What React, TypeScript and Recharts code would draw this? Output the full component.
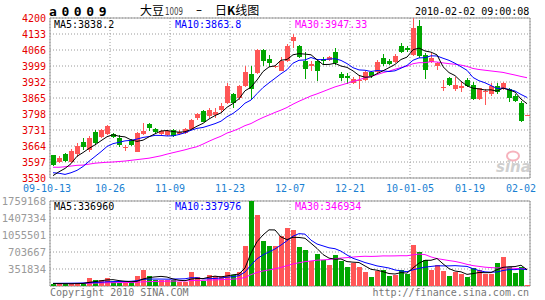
import React from 'react';
import { ComposedChart, Bar, Line, XAxis, YAxis, CartesianGrid, ReferenceArea } from 'recharts';

const days = [
  '10-13','10-14','10-15','10-16','10-19','10-20','10-21','10-22','10-23','10-26',
  '10-27','10-28','10-29','10-30','11-02','11-03','11-04','11-05','11-06','11-09',
  '11-10','11-11','11-12','11-13','11-16','11-17','11-18','11-19','11-20','11-23',
  '11-24','11-25','11-26','11-27','11-30','12-01','12-02','12-03','12-04','12-07',
  '12-08','12-09','12-10','12-11','12-14','12-15','12-16','12-17','12-18','12-21',
  '12-22','12-23','12-24','12-25','12-28','12-29','12-30','12-31','01-04','01-05',
  '01-06','01-07','01-08','01-11','01-12','01-13','01-14','01-15','01-18','01-19',
  '01-20','01-21','01-22','01-25','01-26','01-27','01-28','01-29','02-01','02-02',
];
const tickLabels = ['09-10-13', '10-26', '11-09', '11-23', '12-07', '12-21', '10-01-05', '01-19', '02-02'];

const opens = [
  3626, 3598, 3629, 3598, 3629, 3682, 3647, 3724, 3703, 3713,
  3713, 3699, 3654, 3689, 3640, 3713, 3755, 3734, 3713, 3710,
  3731, 3713, 3717, 3735, 3780, 3811, 3788, 3795, 3816, 3844,
  3882, 3865, 3914, 3966, 3970, 4065, 4028, 3993, 3979, 4019,
  4102, 4081, 4019, 3998, 4019, 4030, 4026, 4056, 3966, 3959,
  3928, 3935, 3942, 3974, 3972, 4034, 4021, 4017, 4083, 4073,
  4045, 4166, 4045, 4014, 4000, 3905, 3950, 3903, 3908, 3940,
  3919, 3861, 3889, 3880, 3917, 3903, 3903, 3875, 3843, 3790,
];
const highs = [
  3628, 3622, 3633, 3650, 3675, 3696, 3706, 3731, 3735, 3750,
  3717, 3710, 3668, 3693, 3724, 3762, 3759, 3739, 3731, 3731,
  3735, 3731, 3738, 3777, 3803, 3815, 3822, 3823, 3844, 3928,
  3886, 3921, 3998, 3998, 4072, 4072, 4044, 4000, 4035, 4091,
  4133, 4088, 4058, 4021, 4030, 4035, 4042, 4074, 3974, 3970,
  3952, 3963, 3979, 3979, 4024, 4048, 4028, 4048, 4094, 4084,
  4199, 4192, 4052, 4052, 4017, 3940, 3952, 3954, 3933, 3947,
  3931, 3908, 3903, 3926, 3926, 3933, 3908, 3880, 3852, 3793,
];
const lows = [
  3582, 3592, 3597, 3592, 3619, 3647, 3640, 3668, 3698, 3710,
  3696, 3661, 3644, 3664, 3640, 3710, 3728, 3717, 3710, 3706,
  3703, 3708, 3713, 3731, 3773, 3763, 3780, 3781, 3802, 3840,
  3823, 3858, 3910, 3862, 3966, 3998, 3993, 3990, 3977, 4016,
  4074, 4033, 3946, 3977, 3938, 4005, 4019, 4005, 3935, 3925,
  3924, 3904, 3938, 3949, 3968, 4000, 4003, 4013, 4052, 4059,
  4042, 4031, 3945, 4010, 3982, 3894, 3917, 3894, 3891, 3912,
  3857, 3857, 3836, 3875, 3880, 3898, 3847, 3847, 3763, 3789,
];
const closes = [
  3584, 3612, 3601, 3644, 3664, 3661, 3699, 3675, 3731, 3748,
  3703, 3668, 3661, 3668, 3717, 3728, 3738, 3724, 3727, 3727,
  3707, 3724, 3734, 3773, 3797, 3766, 3815, 3806, 3830, 3914,
  3844, 3914, 3974, 3904, 4065, 4021, 4012, 3997, 4021, 4081,
  4119, 4035, 3988, 4007, 3977, 4019, 4037, 4012, 3949, 3949,
  3946, 3942, 3974, 3956, 4017, 4006, 4007, 4042, 4059, 4067,
  4160, 4042, 3982, 4034, 4010, 3912, 3919, 3919, 3914, 3917,
  3861, 3905, 3896, 3917, 3889, 3926, 3866, 3852, 3769, 3792,
];
const volumes = [
  47000, 47000, 47000, 40000, 68000, 61000, 157000, 130000, 123000, 157000,
  88000, 61000, 61000, 75000, 199000, 323000, 213000, 130000, 130000, 130000,
  123000, 80000, 88000, 295000, 192000, 109000, 226000, 199000, 213000, 295000,
  226000, 295000, 837000, 1759168, 1465000, 927000, 824000, 824000, 1030000, 1196000,
  1168000, 803000, 741000, 513000, 665000, 534000, 430000, 637000, 527000, 396000,
  476000, 393000, 282000, 180000, 303000, 324000, 200000, 234000, 324000, 255000,
  855000, 696000, 531000, 324000, 441000, 303000, 200000, 282000, 241000, 180000,
  375000, 325000, 255000, 255000, 485000, 610000, 390000, 270000, 395000, 20000,
];

// moving-average values before a full window exists
const ma5Lead = [3540, 3556, 3570, 3590];
const ma10Lead = [3552, 3550, 3545, 3552, 3562, 3578, 3600, 3620, 3640];
const ma30Lead = [
  3575, 3575, 3577, 3580, 3583, 3584, 3588, 3592, 3594, 3596,
  3597, 3599, 3601, 3604, 3607, 3610, 3613, 3618, 3623, 3630,
  3636, 3642, 3648, 3655, 3661, 3672, 3684, 3695, 3705,
];
const vma5Lead = [52000, 50000, 48000, 47000];
const vma10Lead = [55000, 56000, 57000, 58000, 60000, 63000, 67000, 72000, 78000];
const vma30Lead = [
  48000, 49000, 50000, 50000, 52000, 53000, 57000, 60000, 63000, 67000,
  69000, 70000, 71000, 73000, 78000, 86000, 91000, 94000, 97000, 100000,
  102000, 103000, 105000, 112000, 116000, 118000, 123000, 127000, 131000,
];

const priceTicks = [3530, 3597, 3664, 3731, 3798, 3865, 3932, 3999, 4066, 4133, 4200];
const volTicks = [351834, 703667, 1055501, 1407334, 1759168];

const priceLabels = { ma5: 'MA5:3838.2', ma10: 'MA10:3863.8', ma30: 'MA30:3947.33' };
const volLabels = { ma5: 'MA5:336960', ma10: 'MA10:337976', ma30: 'MA30:346934' };

const RED = '#ff5656';
const GREEN = '#00a600';
const MONO = '"DejaVu Sans Mono", monospace';

function movingAverage(values: number[], n: number, lead: number[]) {
  return values.map((_, i) => {
    if (i < n - 1) return lead[i];
    let s = 0;
    for (let k = i - n + 1; k <= i; k++) s += values[k];
    return s / n;
  });
}

const ma5 = movingAverage(closes, 5, ma5Lead);
const ma10 = movingAverage(closes, 10, ma10Lead);
const ma30 = movingAverage(closes, 30, ma30Lead);
const vma5 = movingAverage(volumes, 5, vma5Lead);
const vma10 = movingAverage(volumes, 10, vma10Lead);
const vma30 = movingAverage(volumes, 30, vma30Lead);

const rows = days.map((d, i) => ({
  day: d,
  pos: i + 0.5,
  open: opens[i],
  high: highs[i],
  low: lows[i],
  close: closes[i],
  range: [lows[i], highs[i]],
  vol: volumes[i],
  ma5: ma5[i],
  ma10: ma10[i],
  ma30: ma30[i],
  vma5: vma5[i],
  vma10: vma10[i],
  vma30: vma30[i],
}));

const xMax = days.length;
const xTicks = tickLabels.map((_, k) => (k * xMax) / (tickLabels.length - 1));

function Candle(props: any) {
  const { x, y, width, height, payload } = props;
  if (x == null || y == null || !payload) return null;
  const { open, close, high, low } = payload;
  const top = Math.min(y, y + height);
  const h = Math.abs(height);
  const span = high - low || 1;
  const py = (v: number) => top + ((high - v) / span) * h;
  const color = close >= open ? RED : GREEN;
  const left = Math.floor(x);
  const w = Math.max(1, Math.round(width));
  const mid = left + Math.floor(w / 2);
  const bTop = Math.round(py(Math.max(open, close)));
  const bBot = Math.round(py(Math.min(open, close)));
  const wTop = Math.round(top);
  const wBot = Math.round(top + h);
  return (
    <g>
      <rect x={mid} y={wTop} width={1} height={Math.max(1, wBot - wTop)} fill={color} />
      <rect x={left} y={bTop} width={w} height={Math.max(1, bBot - bTop)} fill={color} />
    </g>
  );
}

function VolBar(props: any) {
  const { x, y, width, height, payload } = props;
  if (x == null || y == null || !payload) return null;
  const t = Math.round(Math.min(y, y + height));
  const b = Math.round(Math.max(y, y + height));
  return (
    <rect
      x={Math.floor(x)}
      y={t}
      width={Math.max(1, Math.round(width))}
      height={Math.max(1, b - t)}
      fill={payload.close >= payload.open ? RED : GREEN}
    />
  );
}

function DateTick(props: any) {
  const { x, y, payload } = props;
  const k = Math.round(payload.value / (xMax / (tickLabels.length - 1)));
  const label = tickLabels[k];
  let anchor: 'middle' | 'end' = 'middle';
  let tx = x;
  if (k === 0) tx = x - 3;
  if (k === tickLabels.length - 1) {
    anchor = 'end';
    tx = x + 6;
  }
  return (
    <text x={tx} y={y + 14} textAnchor={anchor} fill="#1a7fd2" fontSize={10} fontFamily={MONO}>
      {label}
    </text>
  );
}

export default function App() {
  return (
    <div style={{ position: 'absolute', left: 0, top: 0, width: 545, height: 300, background: '#fff', overflow: 'hidden' }}>
      <div style={{ position: 'absolute', left: 0, top: 0 }}>
        <ComposedChart width={545} height={200} data={rows} margin={{ top: 18, right: 15, bottom: 0, left: 0 }}>
          <CartesianGrid stroke="#9a9a9a" strokeDasharray="1 2" />
          <XAxis
            type="number"
            dataKey="pos"
            domain={[0, xMax]}
            ticks={xTicks}
            interval={0}
            allowDataOverflow
            height={22}
            tickLine={false}
            axisLine={false}
            tickSize={0}
            tickMargin={0}
            tick={<DateTick />}
          />
          <YAxis
            type="number"
            domain={[priceTicks[0], priceTicks[priceTicks.length - 1]]}
            ticks={priceTicks}
            interval={0}
            allowDataOverflow
            width={50}
            tickLine={false}
            axisLine={false}
            tickSize={0}
            tickMargin={4}
            tick={{ fill: '#e60000', fontSize: 10, fontFamily: MONO }}
          />
          <ReferenceArea
            x1={0}
            x2={xMax}
            y1={priceTicks[0]}
            y2={priceTicks[priceTicks.length - 1]}
            fill="none"
            stroke="#999"
            strokeWidth={1}
            ifOverflow="visible"
          />
          <Bar dataKey="range" barSize={5} shape={<Candle />} isAnimationActive={false} />
          <Line type="linear" dataKey="ma30" stroke="#ff00ff" strokeWidth={1} dot={false} activeDot={false} isAnimationActive={false} />
          <Line type="linear" dataKey="ma10" stroke="#0000ff" strokeWidth={1} dot={false} activeDot={false} isAnimationActive={false} />
          <Line type="linear" dataKey="ma5" stroke="#000000" strokeWidth={1} dot={false} activeDot={false} isAnimationActive={false} />
        </ComposedChart>
      </div>
      <div style={{ position: 'absolute', left: 0, top: 195 }}>
        <ComposedChart width={545} height={105} data={rows} margin={{ top: 6, right: 15, bottom: 14, left: 0 }}>
          <CartesianGrid stroke="#9a9a9a" strokeDasharray="1 2" />
          <XAxis type="number" dataKey="pos" domain={[0, xMax]} ticks={xTicks} interval={0} allowDataOverflow hide />
          <YAxis
            type="number"
            domain={[0, volTicks[volTicks.length - 1]]}
            ticks={volTicks}
            interval={0}
            allowDataOverflow
            width={50}
            tickLine={false}
            axisLine={false}
            tickSize={0}
            tickMargin={4}
            tick={{ fill: '#9a9a9a', fontSize: 10.5, fontFamily: MONO }}
          />
          <ReferenceArea
            x1={0}
            x2={xMax}
            y1={0}
            y2={volTicks[volTicks.length - 1]}
            fill="none"
            stroke="#999"
            strokeWidth={1}
            ifOverflow="visible"
          />
          <Bar dataKey="vol" barSize={5} shape={<VolBar />} isAnimationActive={false} />
          <Line type="linear" dataKey="vma30" stroke="#ff00ff" strokeWidth={1} dot={false} activeDot={false} isAnimationActive={false} />
          <Line type="linear" dataKey="vma10" stroke="#0000ff" strokeWidth={1} dot={false} activeDot={false} isAnimationActive={false} />
          <Line type="linear" dataKey="vma5" stroke="#000000" strokeWidth={1} dot={false} activeDot={false} isAnimationActive={false} />
        </ComposedChart>
      </div>
      <svg width={545} height={300} style={{ position: 'absolute', left: 0, top: 0, pointerEvents: 'none' }}>
        <text x={49} y={16} fontSize={13} fontWeight="bold" fontFamily={MONO} letterSpacing={4.6} fill="#000">a0009</text>
        <text x={140} y={15} fontSize={12} fontFamily='"Noto Sans CJK SC", sans-serif' fill="#000">大豆</text>
        <text x={165} y={15} fontSize={11} fontFamily='"DejaVu Sans", sans-serif' fill="#444" textLength={18} lengthAdjust="spacingAndGlyphs">1009</text>
        <text x={196} y={14} fontSize={12} fontFamily='"DejaVu Sans", sans-serif' fill="#000">–</text>
        <text x={215} y={15} fontSize={12} fontFamily='"Noto Sans CJK SC", sans-serif' fill="#000">日<tspan fontWeight="bold">K</tspan>线图</text>
        <text x={415} y={15} fontSize={10} fontFamily={MONO} fill="#000">2010-02-02 09:00:08</text>

        <text x={54} y={28} fontSize={10} fontFamily={MONO} fill="#000">{priceLabels.ma5}</text>
        <text x={175} y={28} fontSize={10} fontFamily={MONO} fill="#0000ff">{priceLabels.ma10}</text>
        <text x={295} y={28} fontSize={10} fontFamily={MONO} fill="#ff00ff">{priceLabels.ma30}</text>

        <text x={54} y={210} fontSize={10} fontFamily={MONO} fill="#000">{volLabels.ma5}</text>
        <text x={175} y={210} fontSize={10} fontFamily={MONO} fill="#0000ff">{volLabels.ma10}</text>
        <text x={295} y={210} fontSize={10} fontFamily={MONO} fill="#ff00ff">{volLabels.ma30}</text>

        <ellipse cx={513} cy={156} rx={6} ry={4.5} fill="none" stroke="#f6b3bd" strokeWidth={2} />
        <text x={496} y={172} fontSize={15} fontStyle="italic" fontWeight="bold" fontFamily='"DejaVu Sans", sans-serif' fill="#cfcfcf">sina</text>

        <text x={50} y={296} fontSize={10} fontFamily={MONO} fill="#777">Copyright 2010 SINA.COM</text>
        <text x={529} y={296} fontSize={10} fontFamily={MONO} fill="#777" textAnchor="end">http://finance.sina.com.cn</text>
      </svg>
    </div>
  );
}
